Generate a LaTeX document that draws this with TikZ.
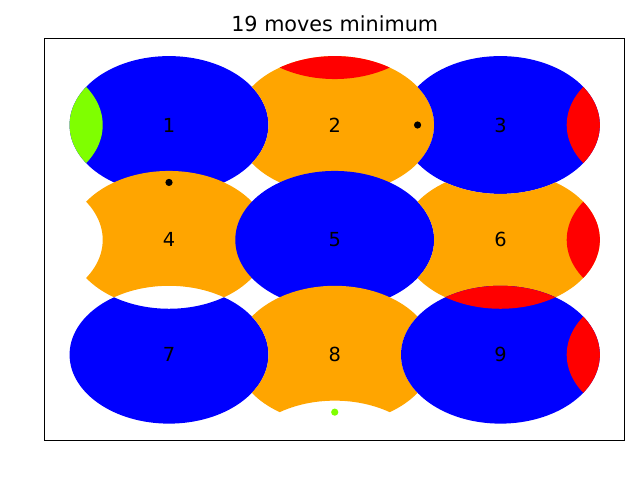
\documentclass[tikz,border=0pt]{standalone}
\usepackage{fontspec}
\setmainfont{DejaVu Sans}
\usepackage{tikz}
\definecolor{tileblue}{HTML}{0000FF}
\definecolor{tileorange}{HTML}{FFA500}
\definecolor{lensred}{HTML}{FF0000}
\definecolor{lensgreen}{HTML}{7FFF00}

% one tile: centre, colour, circles of the neighbours that cut a notch
\newcommand{\tilebody}[4]{%
  \begin{scope}
    \clip (#1,#2) circle (0.6);
    \fill[#3,even odd rule] (-2,-2) rectangle (4,4) #4;
  \end{scope}}
% coloured lens shared with a neighbour
\newcommand{\tilelens}[5]{%
  \begin{scope}
    \clip (#1,#2) circle (0.6);
    \fill[#5] (#3,#4) circle (0.6);
  \end{scope}}

\tikzset{
  num/.style={font=\fontsize{14}{16}\selectfont},
  marker/.style={radius=2.6pt}
}

\begin{document}
\begin{tikzpicture}[x=4.209cm,y=2.9174cm]
  \useasboundingbox (-1.0199,-1.0908) rectangle (2.8423,3.0883);
  \node[font=\fontsize{15}{18}\selectfont] (title) at (1,2.884) {19 moves minimum};

  \tilebody{0}{2}{tileblue}{}
  \tilelens{0}{2}{-1}{2}{lensgreen}
  \tilebody{1}{2}{tileorange}{(0,2) circle (0.6)}
  \tilelens{1}{2}{1}{3}{lensred}
  \tilebody{2}{2}{tileblue}{(1,2) circle (0.6)}
  \tilelens{2}{2}{3}{2}{lensred}
  \tilebody{0}{1}{tileorange}{(-1,1) circle (0.6) (0,0) circle (0.6)}
  \tilebody{1}{1}{tileblue}{}
  \tilebody{2}{1}{tileorange}{(1,1) circle (0.6) (2,2) circle (0.6)}
  \tilelens{2}{1}{3}{1}{lensred}
  \tilelens{2}{1}{2}{0}{lensred}
  \tilebody{0}{0}{tileblue}{(0,1) circle (0.6)}
  \tilebody{1}{0}{tileorange}{(0,0) circle (0.6) (2,0) circle (0.6) (1,-1) circle (0.6)}
  \tilebody{2}{0}{tileblue}{}
  \tilelens{2}{0}{2}{1}{lensred}
  \tilelens{2}{0}{3}{0}{lensred}

  \foreach \n/\cx/\cy in {1/0/2,2/1/2,3/2/2,4/0/1,5/1/1,6/2/1,7/0/0,8/1/0,9/2/0}
    \node[num] (t\n) at (\cx,\cy) {\n};

  \fill[black] (0,1.5) circle[marker];
  \fill[black] (1.5,2) circle[marker];
  \fill[lensgreen] (1,-0.5) circle[marker];

  \draw[line width=0.8pt] (-0.75,-0.75) rectangle (2.75,2.75);
\end{tikzpicture}
\end{document}
